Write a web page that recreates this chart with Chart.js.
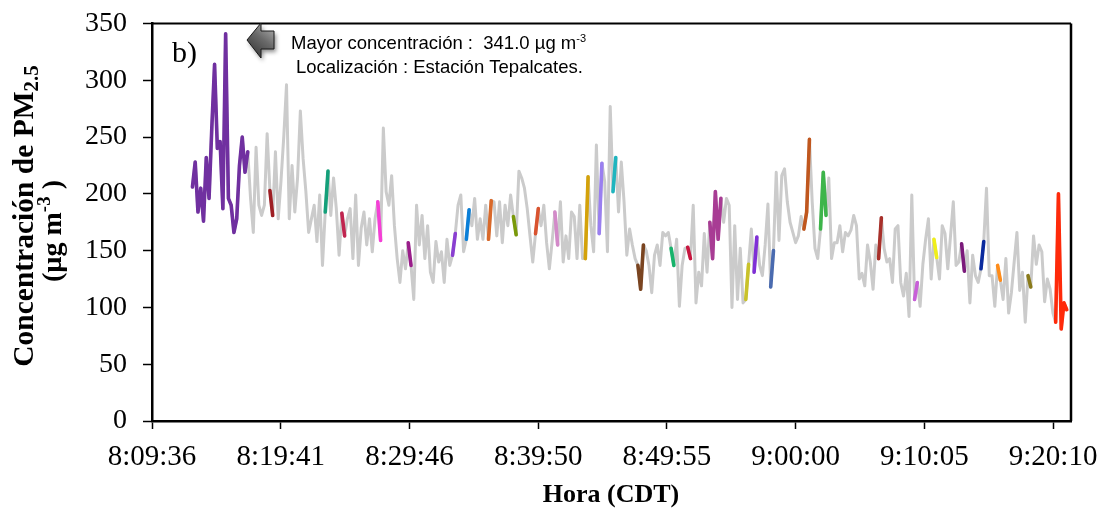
<!DOCTYPE html>
<html>
<head>
<meta charset="utf-8">
<title>PM2.5 recorrido</title>
<script src="https://cdn.jsdelivr.net/npm/chart.js@4.4.1/dist/chart.umd.min.js"></script>
<style>
  html, body { margin: 0; padding: 0; background: #fff; }
</style>
</head>
<body>
<canvas id="pmChart" width="1100" height="510"></canvas>
<script>
// x axis: seconds after 8:09:36, one labelled tick every ~605 s
const tickLabels = ['8:09:36', '8:19:41', '8:29:46', '8:39:50', '8:49:55', '9:00:00', '9:10:05', '9:20:10'];
const tickSpacing = 604.857;
const axisEnd = 4318;
const yTicks = [0, 50, 100, 150, 200, 250, 300, 350];

// PM2.5 record (µg m-3), one reading every 13 s starting 190 s after 8:09:36
const sampleStart = 190;
const sampleStep = 13;
const pmValues = [
    206, 228, 184, 205, 176, 232, 196, 258, 314, 240,
    246, 187, 341, 196, 190, 166, 178, 225, 250, 219,
    237, 196, 166, 241, 190, 181, 190, 253, 203, 181,
    237, 178, 211, 250, 296, 178, 225, 184, 214, 273,
    231, 202, 166, 178, 190, 158, 199, 137, 184, 220,
    181, 214, 187, 146, 183, 163, 178, 187, 143, 199,
    137, 170, 184, 155, 178, 149, 178, 193, 159, 258,
    202, 190, 216, 172, 143, 122, 150, 134, 157, 137,
    107, 190, 155, 181, 143, 172, 131, 122, 158, 140,
    149, 122, 160, 137, 146, 165, 190, 199, 149, 160,
    186, 172, 196, 160, 178, 160, 190, 160, 194, 193,
    163, 193, 157, 190, 172, 199, 180, 164, 220, 214,
    205, 187, 163, 140, 165, 187, 172, 190, 157, 134,
    158, 184, 155, 193, 140, 163, 143, 184, 180, 143,
    190, 143, 143, 215, 172, 149, 243, 165, 227, 211,
    149, 277, 202, 232, 184, 228, 193, 146, 169, 155,
    143, 137, 116, 155, 150, 137, 113, 146, 155, 137,
    166, 163, 166, 152, 137, 160, 101, 137, 152, 153,
    143, 190, 104, 131, 119, 165, 131, 175, 143, 202,
    160, 196, 175, 196, 190, 100, 172, 107, 152, 104,
    107, 138, 169, 131, 162, 137, 128, 155, 191, 118,
    150, 219, 159, 216, 222, 193, 175, 166, 157, 163,
    180, 169, 184, 248, 193, 152, 143, 169, 219, 181,
    214, 143, 157, 157, 172, 149, 166, 163, 168, 181,
    172, 125, 130, 119, 155, 140, 116, 155, 143, 179,
    152, 140, 143, 122, 169, 172, 122, 110, 130, 92,
    199, 107, 122, 101, 138, 160, 178, 125, 160, 144,
    125, 172, 165, 134, 163, 193, 137, 140, 156, 132,
    150, 104, 146, 128, 122, 134, 158, 205, 128, 128,
    101, 137, 124, 107, 143, 95, 113, 140, 166, 115,
    131, 87, 128, 118, 163, 138, 155, 149, 105, 125,
    116, 95, 87, 200, 81, 104, 98
];

// stretches of the record passing by each station (first / last sample index)
const segStart = [0, 28, 48, 54, 67, 78, 94, 99, 107, 116, 124, 131, 142, 147, 152, 161,
                  173, 179, 187, 200, 203, 209, 221, 227, 248, 261, 268, 278, 285, 291, 302, 312];
const segEnd   = [20, 29, 49, 55, 68, 79, 95, 100, 108, 117, 125, 132, 143, 148, 153, 163,
                  174, 180, 191, 201, 204, 210, 223, 229, 249, 262, 269, 279, 286, 292, 303, 316];
const segColors = ['#7030a0', '#9e1f24', '#14a07a', '#c0254f', '#f53fd6', '#9a1e8a', '#8a3fd1', '#0a7fd8',
                   '#d9692a', '#7a9a0a', '#d9532f', '#d38ac9', '#d4a20a', '#9a7ff0', '#1fb5bf', '#7a4420',
                   '#17b36b', '#c8163f', '#a83c94', '#c9c22a', '#7f2fd6', '#4a6bb0', '#c0571e', '#3db54a',
                   '#a8302a', '#c860d8', '#f0ef1a', '#7b1a7b', '#0a2a9e', '#ff8c1a', '#8a7a1a', '#ff2a0a'];

const points = pmValues.map((v, i) => ({ x: sampleStart + i * sampleStep, y: v }));

const datasets = segStart.map((s, k) => ({
    data: points.slice(s, segEnd[k] + 1),
    borderColor: segColors[k],
    borderWidth: 3.6,
    order: 0
}));
datasets.push({ data: points, borderColor: '#cbcbcb', borderWidth: 3, order: 1 });

// draw a row of text pieces (for sub/superscripts) centred on cx
function drawRuns(ctx, runs, cx, baseY) {
    let total = 0;
    runs.forEach(r => { ctx.font = r.font; r.w = ctx.measureText(r.text).width; total += r.w; });
    let x = cx - total / 2;
    runs.forEach(r => {
        ctx.font = r.font;
        ctx.fillText(r.text, x, baseY + (r.dy || 0));
        x += r.w;
    });
}

const decorPlugin = {
    id: 'decor',
    afterDraw(chart) {
        const { ctx, chartArea: a } = chart;
        ctx.save();
        ctx.fillStyle = '#000';
        ctx.textBaseline = 'alphabetic';
        ctx.textAlign = 'left';

        // frame top and right
        ctx.strokeStyle = '#000';
        ctx.lineWidth = 2;
        ctx.beginPath();
        ctx.moveTo(a.left, a.top);
        ctx.lineTo(a.right, a.top);
        ctx.stroke();
        ctx.lineWidth = 2.5;
        ctx.beginPath();
        ctx.moveTo(a.right, a.top);
        ctx.lineTo(a.right, a.bottom);
        ctx.stroke();

        // panel label
        ctx.font = '30px "Liberation Serif"';
        ctx.fillText('b)', 172, 62);

        // arrow
        ctx.save();
        ctx.shadowColor = 'rgba(0,0,0,0.45)';
        ctx.shadowBlur = 4;
        ctx.shadowOffsetX = 2;
        ctx.shadowOffsetY = 3;
        const g = ctx.createLinearGradient(248, 57, 274, 24);
        g.addColorStop(0, '#2e2e2e');
        g.addColorStop(0.55, '#6a6a6a');
        g.addColorStop(1, '#b4b4b4');
        ctx.beginPath();
        ctx.moveTo(247, 40);
        ctx.lineTo(261, 23);
        ctx.lineTo(261, 31);
        ctx.lineTo(274, 31);
        ctx.lineTo(274, 49);
        ctx.lineTo(261, 49);
        ctx.lineTo(261, 58);
        ctx.closePath();
        ctx.fillStyle = g;
        ctx.fill();
        ctx.shadowColor = 'transparent';
        ctx.strokeStyle = '#1a1a1a';
        ctx.lineWidth = 1;
        ctx.stroke();
        ctx.restore();

        // annotation
        ctx.font = '18.5px "Liberation Sans"';
        const l1 = 'Mayor concentración :  341.0 µg m';
        ctx.fillText(l1, 291, 49);
        const w1 = ctx.measureText(l1).width;
        ctx.font = '11px "Liberation Sans"';
        ctx.fillText('-3', 291 + w1, 42);
        ctx.font = '18.5px "Liberation Sans"';
        ctx.fillText('Localización : Estación Tepalcates.', 296, 73);

        // axis titles
        const ttl = 'bold 29.5px "Liberation Serif"';
        const sml = 'bold 21px "Liberation Serif"';
        ctx.save();
        ctx.translate(33, 216);
        ctx.rotate(-Math.PI / 2);
        drawRuns(ctx, [{ text: 'Concentración de PM', font: ttl }, { text: '2.5', font: sml, dy: 5 }], 0, 0);
        ctx.restore();
        const ttl2 = 'bold 28px "Liberation Serif"';
        const sml2 = 'bold 19px "Liberation Serif"';
        ctx.save();
        ctx.translate(61, 231);
        ctx.rotate(-Math.PI / 2);
        drawRuns(ctx, [{ text: '(µg m', font: ttl2 }, { text: '-3', font: sml2, dy: -11 }, { text: ' )', font: ttl2 }], 0, 0);
        ctx.restore();

        ctx.font = 'bold 26px "Liberation Serif"';
        ctx.textAlign = 'center';
        ctx.fillText('Hora (CDT)', 611, 502);
        ctx.restore();
    }
};

new Chart(document.getElementById('pmChart'), {
    type: 'line',
    data: { datasets: datasets },
    options: {
        responsive: false,
        animation: false,
        layout: { padding: { top: 23.5, right: 29, left: 0, bottom: 0 } },
        elements: {
            point: { radius: 0 },
            line: { tension: 0, borderJoinStyle: 'round', borderCapStyle: 'round' }
        },
        plugins: { legend: { display: false }, tooltip: { enabled: false } },
        scales: {
            x: {
                type: 'linear',
                min: 0,
                max: axisEnd,
                afterBuildTicks: s => { s.ticks = tickLabels.map((l, k) => ({ value: k * tickSpacing })); },
                afterFit: s => { s.height = 89; s.paddingLeft = 0; s.paddingRight = 0; },
                ticks: {
                    autoSkip: false,
                    maxRotation: 0,
                    padding: 11,
                    color: '#000',
                    font: { family: '"Liberation Serif"', size: 29 },
                    callback: (v, i) => tickLabels[i]
                },
                grid: { drawOnChartArea: false, tickLength: 8, tickColor: '#000', tickWidth: 1.5 },
                border: { color: '#000', width: 2.5 }
            },
            y: {
                min: 0,
                max: 350,
                afterBuildTicks: s => { s.ticks = yTicks.map(v => ({ value: v })); },
                afterFit: s => { s.width = 152; s.paddingTop = 0; s.paddingBottom = 0; },
                ticks: {
                    padding: 16,
                    color: '#000',
                    font: { family: '"Liberation Serif"', size: 28 }
                },
                grid: { drawOnChartArea: false, tickLength: 9, tickColor: '#000', tickWidth: 1.5 },
                border: { color: '#000', width: 2.5 }
            }
        }
    },
    plugins: [decorPlugin]
});
</script>
</body>
</html>
